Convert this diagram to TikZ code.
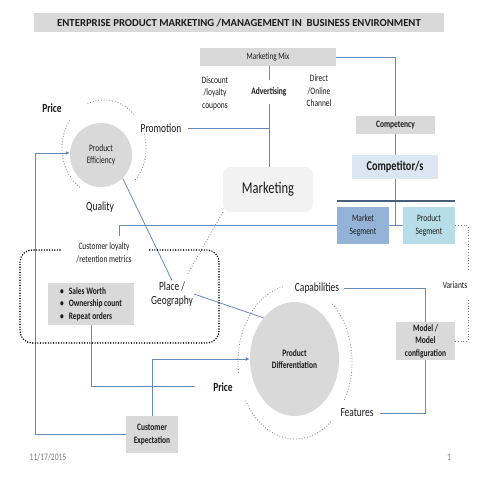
\documentclass[tikz,border=0pt]{standalone}
\usepackage{fontspec}
\setmainfont{Carlito}[FakeStretch=0.76]
\newfontfamily\titlefont{Carlito}
\usetikzlibrary{arrows.meta,shapes.geometric,calc}
\definecolor{boxgray}{HTML}{D9D9D9}
\definecolor{mktgray}{HTML}{F2F2F2}
\definecolor{compblue}{HTML}{DCE6F2}
\definecolor{msegblue}{HTML}{95B3D7}
\definecolor{psegblue}{HTML}{B7DEE8}
\definecolor{lineblue}{RGB}{100,138,186}
\definecolor{darkbar}{RGB}{70,95,125}
\definecolor{txt}{HTML}{1A1A1A}
\begin{document}
\begin{tikzpicture}[x=1pt,y=-1pt,
  every node/.style={text=txt, inner sep=1pt, align=center},
  fbox/.style={fill=boxgray},
  fs8/.style={font=\fontsize{9.5}{11}\selectfont},
  fs9/.style={font=\fontsize{9.8}{12.5}\selectfont},
  fs9b/.style={font=\bfseries\fontsize{9.8}{12.5}\selectfont},
  fs11/.style={font=\fontsize{12.4}{14}\selectfont},
  fs11b/.style={font=\bfseries\fontsize{12.4}{14}\selectfont},
  conn/.style={draw=lineblue, line width=0.8pt},
  arr/.style={conn, -{Latex[length=4pt,width=4pt]}},
  graydots/.style={draw=gray, dotted, line width=0.8pt},
  blackdots/.style={draw=black, line width=1.6pt, dash pattern=on 0pt off 2.6pt, line cap=round}
]
\useasboundingbox[fill=white] (0,0) rectangle (480,480);

% title
\node[fbox, minimum width=410pt, minimum height=19pt, font=\titlefont\bfseries\fontsize{10.7}{12}\selectfont] (title) at (239,22.5)
  {ENTERPRISE PRODUCT MARKETING /MANAGEMENT IN\ \ BUSINESS ENVIRONMENT};

% marketing mix area
\node[fbox, fs8, minimum width=136pt, minimum height=18pt] (mix) at (268,57) {Marketing Mix};
\node[fs9b, inner ysep=8pt] (adv) at (269,92) {Advertising};
\node[fs9] (disc) at (215,93) {Discount\\/loyalty\\coupons};
\node[fs9] (direct) at (319,91) {Direct\\/Online\\Channel};
\node[fs11, inner xsep=6pt] (promo) at (161,128) {Promotion};
\node[fill=mktgray, rounded corners=8pt, minimum width=90pt, minimum height=45pt,
      font=\fontsize{16.5}{18}\selectfont] (mkt) at (268,189.5) {Marketing};

% competency column
\node[fbox, fs9b, minimum width=79pt, minimum height=18pt] (comp) at (395.5,125) {Competency};
\node[fill=compblue, font=\bfseries\fontsize{13.5}{15}\selectfont, minimum width=86pt, minimum height=24pt] (compt) at (395,167) {Competitor/s};
\node[fill=msegblue, fs9, minimum width=52pt, minimum height=37pt] (mseg) at (363,225.5) {Market\\Segment};
\node[fill=psegblue, fs9, minimum width=52pt, minimum height=37pt] (pseg) at (429,225.5) {Product\\Segment};
\coordinate (barL) at (337,201);
\coordinate (barR) at (455,201);

% product efficiency
\node[ellipse, fbox, fs9, minimum width=62pt, minimum height=64pt] (eff) at (101,155) {Product\\Efficiency};
\node[fs11b] (price1) at (52,108) {Price};
\node[fs11] (quality) at (100,207) {Quality};

% loyalty
\node[fs9] (loyal) at (104,253) {Customer loyalty\\/retention metrics};
\coordinate (loyalin) at (119,236);
\node[fbox, fs9b, minimum width=86pt, minimum height=42pt] (sales) at (91,304)
  {\begin{tabular}{@{}l@{\hspace{5pt}}l@{}}\textbullet & Sales Worth\\ \textbullet & Ownership count\\ \textbullet & Repeat orders\end{tabular}};
\node[fs11] (place) at (172,294) {Place /\\Geography};
\coordinate (mktdot) at (187,275);

% product differentiation
\node[ellipse, fbox, fs9b, minimum width=89pt, minimum height=114pt] (diff) at (294.5,359) {Product\\Differentiation};
\node[fs11, inner xsep=5pt] (cap) at (317,288) {Capabilities};
\node[fs11, inner xsep=6pt] (feat) at (357,413) {Features};
\node[fs9] (variants) at (455,285) {Variants};
\node[fbox, fs9b, minimum width=59pt, minimum height=38pt] (model) at (425.5,341) {Model /\\Model\\configuration};
\node[fs11b] (price2) at (223,387) {Price};
\node[fbox, fs9b, minimum width=52pt, minimum height=37pt] (cexp) at (152,434.5) {Customer\\Expectation};
\coordinate (pl) at (195,386);
\coordinate (leftx) at (35,153);
\coordinate (vtop) at (468,270);
\coordinate (vbot) at (468,300);

% footer
\node[font=\fontsize{10}{12}\selectfont, text=gray] (date) at (48,457) {11/17/2015};
\node[font=\fontsize{10}{12}\selectfont, text=gray] (page) at (449,457) {1};

% connectors
\draw[conn] (mix.east) -| (comp.north);
\draw[conn] (mix.south -| adv.north) -- (adv.north);
\draw[conn] (adv.south) -- (adv.south |- mkt.north);
\draw[conn] (promo.east) -- (promo.east -| adv.south);
\draw[conn] (comp.south) -- (comp.south |- compt.north);
\draw[conn] (compt.south -| comp.south) -- (comp.south |- mseg.east);
\draw[conn] (mseg.east) -- (pseg.west);
\draw[draw=darkbar, line width=1.3pt] (barL) -- (barR);
\draw[conn] (mseg.west) -| (loyalin);
\draw[conn] (eff.-47) -- (place.north);
\draw[graydots] (mkt.south west) -- (mktdot);
\draw[conn] (place.east) -- (diff.127);
\draw[conn] (cap.east) -| (model.north);
\draw[conn] (model.south) |- (feat.east);
\draw[graydots] (pseg.east) -| (vtop);
\draw[graydots] (vbot) |- (model.east);
\draw[arr] (cexp.west) -| (leftx) -- (leftx -| eff.west);
\draw[arr] (cexp.north) |- (diff.west);
\draw[conn] (sales.south) |- (pl);

% dotted rounded frame
\draw[blackdots, rounded corners=12pt] (60,250) -- (20,250) -- (20,343) -- (219,343) -- (219,250) -- (148,250);

% dotted arcs around product efficiency
\draw[graydots] plot[domain=247:316, samples=30] ({104+42*cos(\x)}, {148+48*sin(\x)});
\draw[graydots] plot[domain=-17:42, samples=30] ({104+42*cos(\x)}, {148+48*sin(\x)});
\draw[graydots] plot[domain=125:215, samples=30] ({104+42*cos(\x)}, {148+48*sin(\x)});

% dotted arcs around product differentiation
\draw[graydots] plot[domain=172:258, samples=40] ({295+57*cos(\x)}, {362+77*sin(\x)});
\draw[graydots] plot[domain=51:150, samples=40] ({295+57*cos(\x)}, {362+77*sin(\x)});
\draw[graydots] plot[domain=-49:30, samples=40] ({295+57*cos(\x)}, {362+77*sin(\x)});
\end{tikzpicture}
\end{document}
